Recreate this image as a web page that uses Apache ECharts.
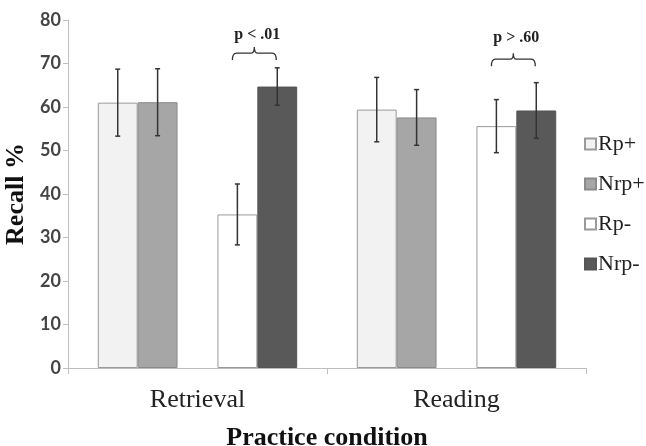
<!DOCTYPE html>
<html>
<head>
<meta charset="utf-8">
<script src="https://cdn.jsdelivr.net/npm/echarts@6/dist/echarts.min.js"></script>
<style>html,body{margin:0;padding:0;background:#fff;}#c{width:646px;height:446px;}</style>
</head>
<body>
<div id="c"></div>
<script>
const categories = ['Retrieval', 'Reading'];
const seriesNames = ['Rp+', 'Nrp+', 'Rp-', 'Nrp-'];
const rpPlus = [61.0, 59.4];
const rpPlusErr = [7.7, 7.4];
const nrpPlus = [61.1, 57.6];
const nrpPlusErr = [7.7, 6.4];
const rpMinus = [35.3, 55.6];
const rpMinusErr = [7.0, 6.1];
const nrpMinus = [64.7, 59.2];
const nrpMinusErr = [4.3, 6.4];
const pLabels = ['p < .01', 'p > .60'];
const bracketY = [72.4, 71.0];
const pLabelY = [76.6, 75.9];
const yTicks = [0, 80, 10];

const BAR_FRAC = 0.154;
const serif = '"Liberation Serif", "Times New Roman", serif';
const sans = 'Lato, "Liberation Sans", sans-serif';
const colors = ['#f2f2f2', '#a6a6a6', '#ffffff', '#595959'];
const borders = ['#9a9a9a', '#8a8a8a', '#9a9a9a', '#555555'];

const values = [rpPlus, nrpPlus, rpMinus, nrpMinus];
const errs = [rpPlusErr, nrpPlusErr, rpMinusErr, nrpMinusErr];
const slots = [0, 1, 3, 4];

const errData = [];
values.forEach((arr, s) => arr.forEach((v, i) => errData.push([i, v, errs[s][i], slots[s]])));
const annData = categories.map((c, i) => [i, bracketY[i], pLabelY[i]]);

function barSeries(k) {
  return {
    name: seriesNames[k], type: 'bar', data: values[k],
    barWidth: (BAR_FRAC * 100) + '%', barGap: '0%',
    itemStyle: { color: colors[k], borderColor: borders[k], borderWidth: 1 }
  };
}

const chart = echarts.init(document.getElementById('c'));
chart.setOption({
  animation: false,
  grid: { left: 68, top: 20, right: 60, bottom: 78, outerBoundsMode: 'none', containLabel: false },
  legend: {
    data: seriesNames, orient: 'vertical', left: 579, top: 128,
    itemWidth: 11, itemHeight: 11, itemGap: 18,
    textStyle: { fontFamily: serif, fontSize: 22, color: '#222', lineHeight: 22, padding: [0, 0, 0, -3] },
    icon: 'rect'
  },
  xAxis: {
    type: 'category', data: categories,
    axisLine: { lineStyle: { color: '#bfbfbf', width: 1 } },
    axisTick: { show: true, length: 6, lineStyle: { color: '#bfbfbf' } },
    axisLabel: { fontFamily: serif, fontSize: 26, color: '#222', margin: 19 },
    name: 'Practice condition', nameLocation: 'middle', nameGap: 57,
    nameTextStyle: { fontFamily: serif, fontSize: 26, fontWeight: 'bold', color: '#111' }
  },
  yAxis: {
    type: 'value', min: yTicks[0], max: yTicks[1], interval: yTicks[2],
    splitLine: { show: false },
    axisLine: { show: true, lineStyle: { color: '#bfbfbf', width: 1 } },
    axisTick: { show: true, length: 5, lineStyle: { color: '#bfbfbf' } },
    axisLabel: { fontFamily: sans, fontSize: 18, fontWeight: 'bold', color: '#444', margin: 7 },
    name: 'Recall %', nameLocation: 'middle', nameGap: 38, nameRotate: 90,
    nameTextStyle: { fontFamily: serif, fontSize: 26, fontWeight: 'bold', color: '#111' }
  },
  series: [
    barSeries(0), barSeries(1),
    { name: '_gap', type: 'bar', data: ['-', '-'], barWidth: (BAR_FRAC * 100) + '%', barGap: '0%' },
    barSeries(2), barSeries(3),
    {
      type: 'custom', data: errData, encode: { x: 0, y: 1 }, z: 10,
      renderItem: function (params, api) {
        const cat = api.value(0), v = api.value(1), e = api.value(2), slot = api.value(3);
        const bw = api.size([1, 0])[0] * BAR_FRAC;
        const top = api.coord([cat, v + e]);
        const bot = api.coord([cat, v - e]);
        const x = top[0] + (slot - 2) * bw;
        const cap = 2.5;
        const st = { stroke: '#333', lineWidth: 1.5 };
        return { type: 'group', children: [
          { type: 'line', shape: { x1: x, y1: top[1], x2: x, y2: bot[1] }, style: st },
          { type: 'line', shape: { x1: x - cap, y1: top[1], x2: x + cap, y2: top[1] }, style: st },
          { type: 'line', shape: { x1: x - cap, y1: bot[1], x2: x + cap, y2: bot[1] }, style: st }
        ]};
      }
    },
    {
      type: 'custom', data: annData, encode: { x: 0, y: 1 }, z: 10,
      renderItem: function (params, api) {
        const cat = api.value(0), by = api.value(1), ty = api.value(2);
        const label = pLabels[params.dataIndex];
        const bw = api.size([1, 0])[0] * BAR_FRAC;
        const c = api.coord([cat, by]);
        const t = api.coord([cat, ty]);
        const x1 = c[0] + 1 * bw - 5, x2 = c[0] + 2 * bw - 1, xm = (x1 + x2) / 2, y = c[1];
        const path = 'M' + x1 + ',' + (y + 7) + ' Q' + x1 + ',' + y + ' ' + (x1 + 4) + ',' + y +
          ' L' + (xm - 3) + ',' + y + ' Q' + xm + ',' + y + ' ' + xm + ',' + (y - 6) +
          ' Q' + xm + ',' + y + ' ' + (xm + 3) + ',' + y +
          ' L' + (x2 - 4) + ',' + y + ' Q' + x2 + ',' + y + ' ' + x2 + ',' + (y + 7);
        return { type: 'group', children: [
          { type: 'path', shape: { pathData: path }, style: { stroke: '#333', lineWidth: 1.3, fill: null } },
          { type: 'text', x: c[0] + 1.5 * bw, y: t[1],
            style: { text: label, fontFamily: serif, fontSize: 16, fontWeight: 'bold', fill: '#222', align: 'center', verticalAlign: 'middle' } }
        ]};
      }
    }
  ]
});
</script>
</body>
</html>
